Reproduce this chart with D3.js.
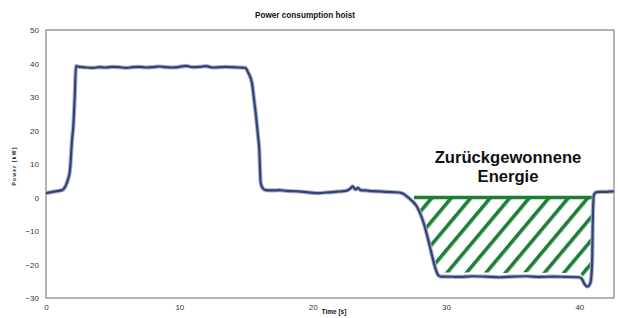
<!DOCTYPE html>
<html>
<head>
<meta charset="utf-8">
<script src="https://cdn.jsdelivr.net/npm/d3@7"></script>
<style>
  body { margin: 0; background: #fff; }
  text { font-family: "Liberation Sans", Arial, sans-serif; }
</style>
</head>
<body>
<svg id="chart" width="618" height="318"></svg>
<script>
const timeS = [
  0, 0.4, 0.8, 1.2, 1.5, 1.65, 1.8, 1.95, 2.05, 2.15, 2.25,
  2.5, 3, 3.5, 4, 4.5, 5, 5.5, 6, 6.5, 7, 7.5, 8, 8.5, 9, 9.5, 10, 10.5, 11, 11.5, 12, 12.5, 13, 13.5, 14, 14.5,
  14.95, 15.15, 15.45, 15.6, 15.75, 15.9, 16.0, 16.05, 16.1, 16.25, 16.5,
  17, 17.5, 18, 18.5, 19, 19.5, 20, 20.5, 21, 21.5, 22, 22.5, 22.8, 23.0, 23.2, 23.4, 23.6, 24, 24.5, 25, 25.5, 26, 26.5, 26.8,
  27.1, 27.4, 27.8, 28.1, 28.4, 28.6, 28.8, 29.0, 29.2, 29.4, 29.6,
  30, 31, 32, 33, 34, 35, 36, 37, 38, 39, 40,
  40.2, 40.4, 40.6, 40.8, 40.9, 40.97, 41.02, 41.1, 41.3, 41.6, 42, 42.6
];
const powerKW = [
  1.3, 1.6, 1.9, 2.2, 3.7, 5.4, 8.2, 17.1, 21.4, 29.5, 39.2,
  39.0, 38.8, 38.7, 38.9, 38.8, 39.0, 38.9, 38.7, 38.9, 39.0, 38.8, 38.9, 39.1, 38.9, 38.8, 39.0, 39.3, 38.9, 39.0, 39.2, 38.8, 38.9, 39.0, 38.9, 38.8,
  38.7, 37.4, 34.1, 29.4, 24.4, 18.4, 13.9, 8.4, 4.4, 2.8, 2.2,
  2.1, 2.2, 2.0, 1.9, 1.8, 1.6, 1.4, 1.3, 1.5, 1.6, 1.8, 2.0, 2.6, 3.3, 2.4, 2.9, 2.2, 2.1, 1.9, 1.8, 1.7, 1.6, 1.5, 1.1,
  0.2, -0.8, -2.6, -5.1, -8.6, -11.6, -14.8, -18.1, -21.1, -23.1, -23.6,
  -23.6, -23.7, -23.5, -23.6, -23.8, -23.6, -23.5, -23.7, -23.6, -23.7, -23.8,
  -24.4, -25.9, -26.6, -25.8, -23.6, -17.6, -4.6, 0.9, 1.6, 1.7, 1.7, 1.8
];
const xTicks = [0, 10, 20, 30, 40];
const yTicks = [-30, -20, -10, 0, 10, 20, 30, 40, 50];
const recoveredSpan = [27.6, 41.0];   // regenerative part (time range)
const recoveredLines = ['Zurückgewonnene', 'Energie'];

const data = timeS.map((t, i) => ({t: t, p: powerKW[i]}));

const svg = d3.select('#chart');
const margin = {top: 30, right: 4, bottom: 20, left: 46};
const width = +svg.attr('width');
const height = +svg.attr('height');

const x = d3.scaleLinear().domain([0, 42.6]).range([margin.left, width - margin.right]);
const y = d3.scaleLinear().domain([-30, 50]).range([height - margin.bottom, margin.top]);

// hatch pattern for the recovered energy area
const defs = svg.append('defs');
defs.append('pattern')
    .attr('id', 'hatch')
    .attr('patternUnits', 'userSpaceOnUse')
    .attr('width', 14.94)
    .attr('height', 14.94)
    .attr('patternTransform', 'rotate(40)')
  .append('line')
    .attr('x1', 9.8).attr('x2', 9.8)
    .attr('y1', -2).attr('y2', 17)
    .attr('stroke', '#1b7d36')
    .attr('stroke-width', 3.6);

// plot frame
svg.append('rect')
    .attr('x', x(0)).attr('y', y(50))
    .attr('width', x(42.6) - x(0))
    .attr('height', y(-30) - y(50))
    .attr('fill', 'none')
    .attr('stroke', '#9c9c9c')
    .attr('stroke-width', 1.5);

// axes
const yAxisG = svg.append('g')
    .attr('transform', `translate(${margin.left},0)`)
    .call(d3.axisLeft(y).tickValues(yTicks).tickSize(0).tickPadding(7));
const xAxisG = svg.append('g')
    .attr('transform', `translate(0,${height - margin.bottom})`)
    .call(d3.axisBottom(x).tickValues(xTicks).tickSize(0).tickPadding(6));
[yAxisG, xAxisG].forEach(g => {
  g.select('.domain').remove();
  g.selectAll('text').attr('font-size', 8).attr('fill', '#333')
      .style('font-family', '"Liberation Sans", Arial, sans-serif');
});

// hatched area between the curve and zero
const regen = data.filter(d => d.t >= recoveredSpan[0] && d.t <= recoveredSpan[1]);
const area = d3.area()
    .x(d => x(d.t))
    .y0(y(0))
    .y1(d => y(d.p) - 4)
    .curve(d3.curveMonotoneX);
svg.append('path')
    .attr('d', area(regen))
    .attr('fill', 'url(#hatch)');

svg.append('line')
    .attr('x1', x(recoveredSpan[0])).attr('x2', x(recoveredSpan[1]))
    .attr('y1', y(0)).attr('y2', y(0))
    .attr('stroke', '#1b7d36')
    .attr('stroke-width', 3.5);

// power curve
const lineGenerator = d3.line()
    .x(d => x(d.t))
    .y(d => y(d.p))
    .curve(d3.curveMonotoneX);
svg.append('path')
    .attr('d', lineGenerator(data))
    .attr('fill', 'none')
    .attr('stroke', '#aab2cc')
    .attr('stroke-width', 4.2)
    .attr('stroke-linejoin', 'round');
svg.append('path')
    .attr('d', lineGenerator(data))
    .attr('fill', 'none')
    .attr('stroke', '#34427a')
    .attr('stroke-width', 2.2)
    .attr('stroke-linejoin', 'round');

// titles
svg.append('text')
    .attr('x', 305).attr('y', 18)
    .attr('text-anchor', 'middle')
    .attr('font-size', 8.2)
    .attr('font-weight', 'bold')
    .attr('fill', '#111')
    .text('Power consumption hoist');

svg.append('text')
    .attr('x', 334).attr('y', 314)
    .attr('text-anchor', 'middle')
    .attr('font-size', 6.5)
    .attr('font-weight', 'bold')
    .attr('fill', '#111')
    .text('Time [s]');

svg.append('text')
    .attr('transform', 'translate(16,166) rotate(-90)')
    .attr('text-anchor', 'middle')
    .attr('font-size', 5)
    .attr('font-weight', 'bold')
    .attr('letter-spacing', 1.2)
    .attr('fill', '#111')
    .text('Power [kW]');

svg.append('text')
    .attr('x', 508).attr('y', 163)
    .attr('text-anchor', 'middle')
    .attr('font-size', 16.6)
    .attr('font-weight', 'bold')
    .attr('fill', '#111')
  .selectAll('tspan')
  .data(recoveredLines)
  .enter().append('tspan')
    .attr('x', 508)
    .attr('dy', (d, i) => i === 0 ? 0 : 19)
    .text(d => d);
</script>
</body>
</html>
